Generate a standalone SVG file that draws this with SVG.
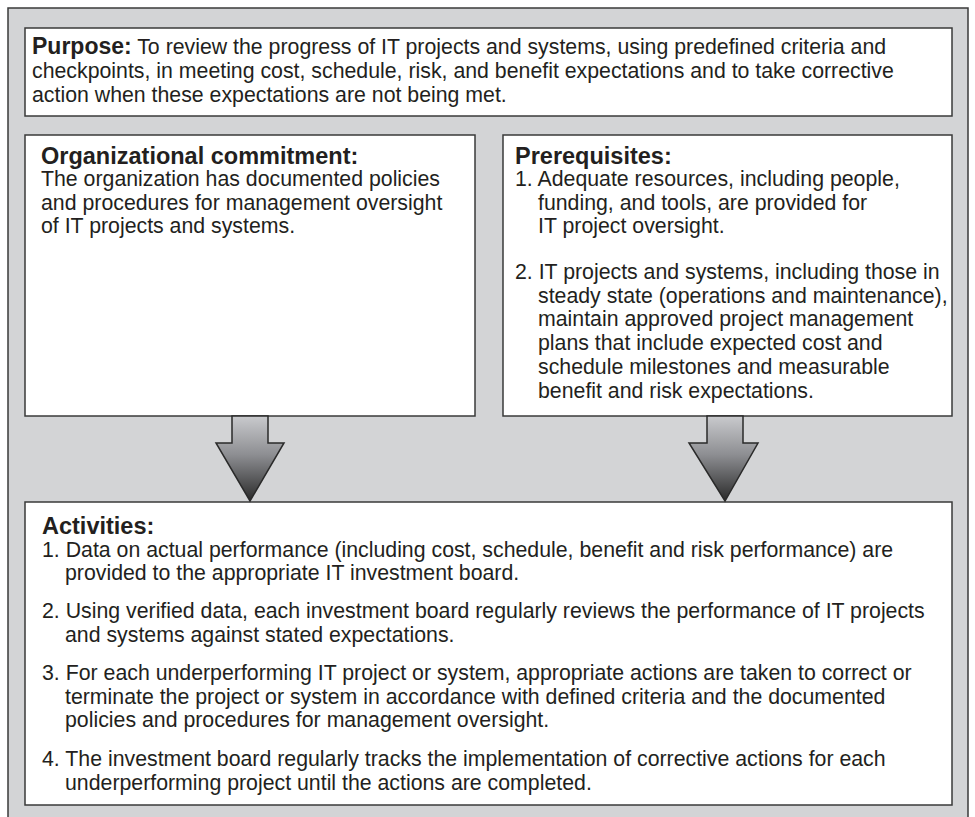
<svg xmlns="http://www.w3.org/2000/svg" width="975" height="817" viewBox="0 0 975 817">
<style>
.box{fill:#ffffff;stroke:#3a3a3a;stroke-width:1.5}
.t{font-family:"Liberation Sans",Arial,sans-serif;font-size:21.3px;fill:#231f20}
.h{font-family:"Liberation Sans",Arial,sans-serif;font-size:23.5px;font-weight:bold;fill:#231f20}
.b{font-weight:bold;font-size:23px}
.arrow{fill:url(#g);stroke:#2a2a2a;stroke-width:1.5;stroke-linejoin:miter}
</style>
<defs>
<linearGradient id="g" x1="0" y1="0" x2="0" y2="1">
<stop offset="0" stop-color="#c9cacd"/>
<stop offset="0.45" stop-color="#8e8f93"/>
<stop offset="1" stop-color="#2a2a2a"/>
</linearGradient>
</defs>
<rect x="8" y="8" width="960" height="815" fill="#d3d4d6" stroke="#3a3a3a" stroke-width="1.5"/>
<g id="purpose">
<rect class="box" x="25" y="28" width="927" height="88"/>
<text class="t" x="32" y="54"><tspan class="b">Purpose:</tspan> To review the progress of IT projects and systems, using predefined criteria and</text>
<text class="t" x="32" y="78">checkpoints, in meeting cost, schedule, risk, and benefit expectations and to take corrective</text>
<text class="t" x="32" y="102">action when these expectations are not being met.</text>
</g>
<g id="commitment">
<rect class="box" x="25" y="135" width="450" height="281"/>
<text class="h" x="41" y="164">Organizational commitment:</text>
<text class="t" x="41" y="186">The organization has documented policies</text>
<text class="t" x="41" y="210">and procedures for management oversight</text>
<text class="t" x="41" y="233">of IT projects and systems.</text>
</g>
<g id="prerequisites">
<rect class="box" x="503" y="135" width="449" height="281"/>
<text class="h" x="515" y="164">Prerequisites:</text>
<text class="t" x="515" y="186">1. Adequate resources, including people,</text>
<text class="t" x="538" y="210">funding, and tools, are provided for</text>
<text class="t" x="538" y="233">IT project oversight.</text>
<text class="t" x="515" y="279">2. IT projects and systems, including those in</text>
<text class="t" x="538" y="303">steady state (operations and maintenance),</text>
<text class="t" x="538" y="326">maintain approved project management</text>
<text class="t" x="538" y="350">plans that include expected cost and</text>
<text class="t" x="538" y="374">schedule milestones and measurable</text>
<text class="t" x="538" y="398">benefit and risk expectations.</text>
</g>
<g id="activities">
<rect class="box" x="25" y="502" width="927" height="303"/>
<text class="h" x="42" y="534">Activities:</text>
<text class="t" x="42" y="557">1. Data on actual performance (including cost, schedule, benefit and risk performance) are</text>
<text class="t" x="65" y="580">provided to the appropriate IT investment board.</text>
<text class="t" x="42" y="618">2. Using verified data, each investment board regularly reviews the performance of IT projects</text>
<text class="t" x="65" y="642">and systems against stated expectations.</text>
<text class="t" x="42" y="680">3. For each underperforming IT project or system, appropriate actions are taken to correct or</text>
<text class="t" x="65" y="704">terminate the project or system in accordance with defined criteria and the documented</text>
<text class="t" x="65" y="727">policies and procedures for management oversight.</text>
<text class="t" x="42" y="766">4. The investment board regularly tracks the implementation of corrective actions for each</text>
<text class="t" x="65" y="790">underperforming project until the actions are completed.</text>
</g>
<g id="connectors">
<polygon class="arrow" points="232,416 268,416 268,443 284,443 250,501 216,443 232,443"/>
<polygon class="arrow" points="707,416 743,416 743,443 758,443 725,501 689,443 707,443"/>
</g>
</svg>
